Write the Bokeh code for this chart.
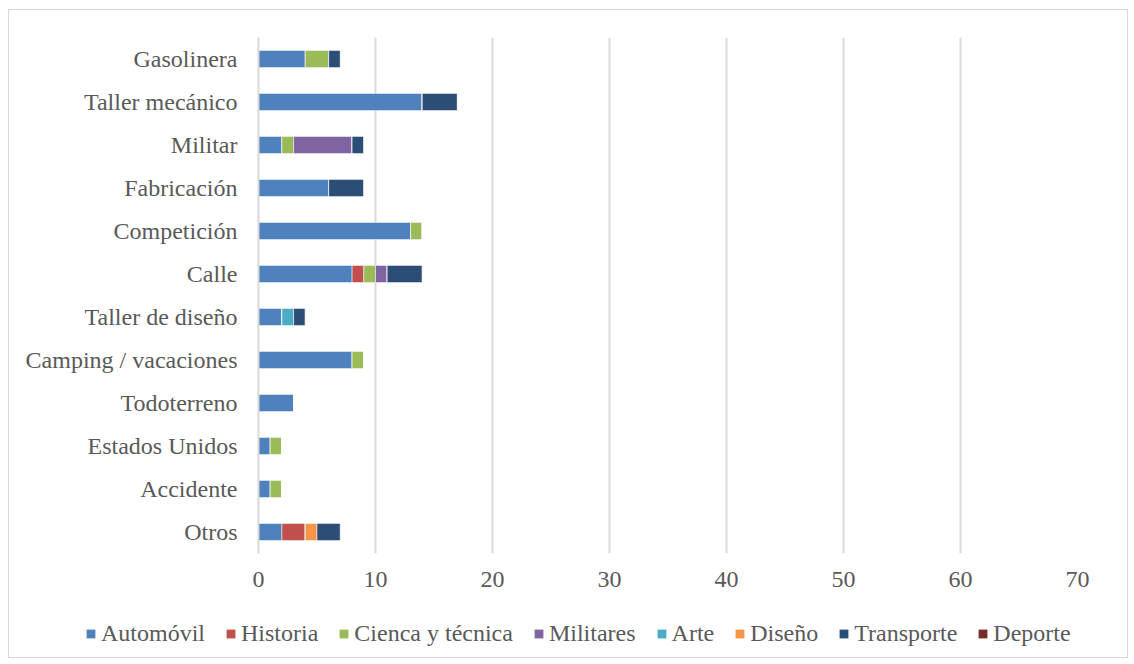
from bokeh.plotting import figure
from bokeh.layouts import column, row
from bokeh.models import FactorRange, Range1d, Legend, LegendItem, FixedTicker
from bokeh.embed import file_html
from bokeh.resources import INLINE

categories = ["Gasolinera", "Taller mecánico", "Militar", "Fabricación", "Competición", "Calle",
              "Taller de diseño", "Camping / vacaciones", "Todoterreno", "Estados Unidos",
              "Accidente", "Otros"]
series = ["Automóvil", "Historia", "Cienca y técnica", "Militares", "Arte", "Diseño", "Transporte", "Deporte"]
colors = ["#4f81bd", "#c0504d", "#9bbb59", "#8064a2", "#4bacc6", "#f79646", "#2c4d75", "#772c2a"]

automovil = [4, 14, 2, 6, 13, 8, 2, 8, 3, 1, 1, 2]
historia  = [0, 0, 0, 0, 0, 1, 0, 0, 0, 0, 0, 2]
ciencia   = [2, 0, 1, 0, 1, 1, 0, 1, 0, 1, 1, 0]
militares = [0, 0, 5, 0, 0, 1, 0, 0, 0, 0, 0, 0]
arte      = [0, 0, 0, 0, 0, 0, 1, 0, 0, 0, 0, 0]
diseno    = [0, 0, 0, 0, 0, 0, 0, 0, 0, 0, 0, 1]
transporte = [1, 3, 1, 3, 0, 3, 1, 0, 0, 0, 0, 2]
deporte   = [0, 0, 0, 0, 0, 0, 0, 0, 0, 0, 0, 0]
x_ticks = [0, 10, 20, 30, 40, 50, 60, 70]

values = [automovil, historia, ciencia, militares, arte, diseno, transporte, deporte]
keys = ["s%d" % i for i in range(len(series))]
data = {"cat": categories}
for k, v in zip(keys, values):
    data[k] = v

FONT = "Liberation Serif"
TXT = "#595959"
FS = "24px"

# ---- main chart ----
p = figure(width=1118, height=590, output_backend="svg", toolbar_location=None,
           y_range=FactorRange(factors=list(reversed(categories)), range_padding=0),
           x_range=Range1d(0, 70))
p.min_border = 0
p.min_border_left = 249
p.min_border_right = 50
p.min_border_top = 27
p.min_border_bottom = 47
p.outline_line_color = None
p.background_fill_color = "white"
p.border_fill_color = "white"

p.hbar_stack(keys, y="cat", height=0.4, color=colors, source=data,
             line_color="white", line_alpha=0.5, line_width=1)

p.ygrid.grid_line_color = None
p.xgrid.grid_line_color = "#d9d9d9"
p.xgrid.grid_line_width = 2
p.xaxis.ticker = FixedTicker(ticks=x_ticks)
p.xaxis.axis_line_color = None
p.xaxis.major_tick_line_color = None
p.xaxis.minor_tick_line_color = None
p.xaxis.major_label_standoff = 12
p.yaxis.axis_line_color = "#d9d9d9"
p.yaxis.axis_line_width = 2
p.yaxis.major_tick_line_color = None
p.yaxis.minor_tick_line_color = None
p.yaxis.major_label_standoff = 15
for ax in (p.xaxis, p.yaxis):
    ax.major_label_text_font = FONT
    ax.major_label_text_font_size = FS
    ax.major_label_text_color = TXT

# ---- legend strip (no axes, frame covers whole strip) ----
lg = figure(width=1118, height=57, output_backend="svg", toolbar_location=None,
            x_axis_location=None, y_axis_location=None,
            x_range=Range1d(0, 1), y_range=Range1d(0, 1))
lg.min_border = 0
lg.outline_line_color = None
lg.grid.visible = False
lg.background_fill_color = "white"
lg.border_fill_color = "white"
items = []
for s, c in zip(series, colors):
    r = lg.hbar(y=[0.5], left=[0], right=[0], height=0, fill_color=c, line_color=None)
    items.append(LegendItem(label=s, renderers=[r]))
legend = Legend(items=items, orientation="horizontal", location=(76, 10),
                label_text_font=FONT, label_text_font_size=FS, label_text_color=TXT,
                glyph_width=11, glyph_height=11, label_standoff=5, spacing=20,
                border_line_color=None, background_fill_alpha=0, margin=0, padding=0)
lg.add_layout(legend, "center")

layout = column(p, row(lg, spacing=0), spacing=0)
layout.margin = (9, 8, 8, 8)
layout.styles = {"border": "1px solid #d9d9d9"}

open("out.html", "w").write(file_html(layout, INLINE))
